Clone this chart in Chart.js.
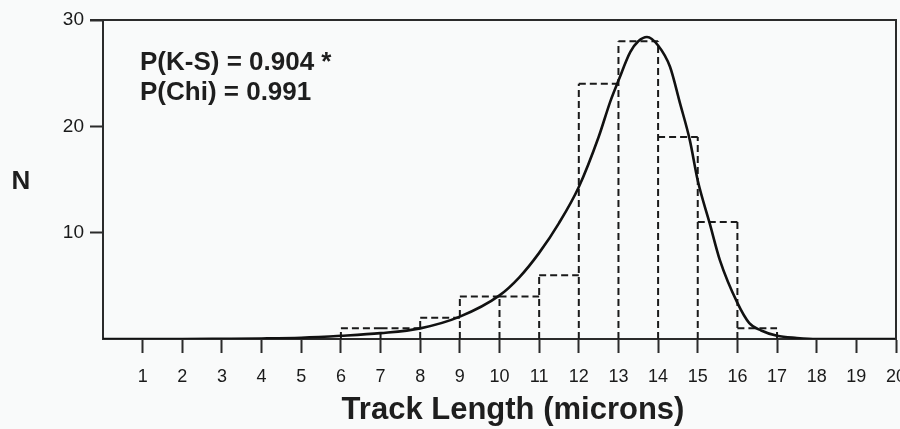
<!DOCTYPE html>
<html><head><meta charset="utf-8">
<script src="https://cdn.jsdelivr.net/npm/chart.js@4/dist/chart.umd.min.js"></script>
<style>html,body{margin:0;padding:0;background:#f9fafa;}</style>
</head><body>
<canvas id="c" width="900" height="429"></canvas>
<script>
// ---- data ----
const xTicks = [0,1,2,3,4,5,6,7,8,9,10,11,12,13,14,15,16,17,18,19,20];
const yTicks = [0,10,20,30];
const binStarts = [6,7,8,9,10,11,12,13,14,15,16];
const binWidth = 1;
const counts = [1,1,2,4,4,6,24,28,19,11,1];
const curveX = [0,1,2,3,4,5,6,7,8,9,10,10.5,11,11.5,12,12.5,12.8,13,13.3,13.5,13.72,14,14.3,14.55,14.8,15,15.3,15.56,16,16.3,16.6,17,17.5,18,19,20];
const curveY = [0,0,0,0.02,0.05,0.12,0.3,0.55,1.0,2.1,4.1,5.8,8.1,10.9,14.3,19.0,22.4,24.3,27.0,28.0,28.4,27.6,25.6,22.2,18.7,14.9,10.9,7.4,3.4,1.5,0.8,0.3,0.1,0,0,0];
const statLabels = ['P(K-S) = 0.904 *','P(Chi) = 0.991'];
const xTitle = 'Track Length (microns)';
const yTitle = 'N';

// ---- build datasets from data ----
const curvePts = curveX.map((x,i)=>({x:x,y:curveY[i]}));
const histPts = [];
binStarts.forEach((lo,i)=>{
  histPts.push({x:lo,y:counts[i]},{x:lo+binWidth,y:counts[i]},{x:lo+binWidth,y:null});
});
const edges = binStarts.concat([binStarts[binStarts.length-1]+binWidth]);
edges.forEach((b,j)=>{
  const left = j>0 ? counts[j-1] : 0;
  const right = j<counts.length ? counts[j] : 0;
  const h = Math.max(left,right);
  histPts.push({x:b,y:0},{x:b,y:h},{x:b,y:null});
});

const AX = '#2b2b2b';
const FONT = '"Liberation Sans", Arial, sans-serif';
const framePlugin = {
  id:'frame',
  afterDraw(chart){
    const {ctx, chartArea:a} = chart;
    ctx.save();
    ctx.strokeStyle = AX; ctx.lineWidth = 2;
    ctx.beginPath();
    ctx.moveTo(a.left-13, a.top); ctx.lineTo(a.right, a.top);
    ctx.lineTo(a.right, a.bottom);
    ctx.stroke();
    ctx.fillStyle = '#1e1e1e';
    ctx.textBaseline = 'middle';
    ctx.font = 'bold 26px ' + FONT;
    ctx.textAlign = 'left';
    ctx.fillText(statLabels[0], a.left+37, 63);
    ctx.fillText(statLabels[1], a.left+37, 93);
    ctx.font = 'bold 31px ' + FONT;
    ctx.textAlign = 'center';
    ctx.fillText(xTitle, 513, 410);
    ctx.font = 'bold 26px ' + FONT;
    ctx.fillText(yTitle, 21, 182);
    ctx.restore();
  }
};

new Chart(document.getElementById('c'), {
  type:'line',
  data:{datasets:[
    {data:curvePts, borderColor:'#111', borderWidth:2.6, pointRadius:0, cubicInterpolationMode:'monotone', fill:false},
    {data:histPts, borderColor:'#1a1a1a', borderWidth:2, borderDash:[7,4], pointRadius:0, tension:0, spanGaps:false, fill:false}
  ]},
  options:{
    responsive:false, animation:false, devicePixelRatio:1,
    layout:{padding:{top:20,right:4,left:0,bottom:0}},
    plugins:{legend:{display:false},tooltip:{enabled:false}},
    scales:{
      x:{type:'linear', min:xTicks[0], max:xTicks[xTicks.length-1],
        afterBuildTicks(s){ s.ticks = xTicks.map(v=>({value:v})); },
        afterFit(s){ s.height = 90; s.paddingRight = 0; s.paddingLeft = 0; },
        border:{display:true,color:AX,width:2},
        grid:{drawOnChartArea:false, drawTicks:true, tickLength:14, tickWidth:2,
          tickColor:(c)=> (c.tick && c.tick.value===0) ? 'rgba(0,0,0,0)' : AX},
        ticks:{autoSkip:false, maxRotation:0, padding:13, color:'#1a1a1a',
          font:{family:FONT, size:18},
          callback:(v)=> v===0 ? '' : String(v)}
      },
      y:{type:'linear', min:yTicks[0], max:yTicks[yTicks.length-1],
        afterBuildTicks(s){ s.ticks = yTicks.map(v=>({value:v})); },
        afterFit(s){ s.width = 103; s.paddingTop = 0; s.paddingBottom = 0; },
        border:{display:true,color:AX,width:2},
        grid:{drawOnChartArea:false, drawTicks:true, tickLength:13, tickWidth:2,
          tickColor:(c)=> (c.tick && c.tick.value===0) ? 'rgba(0,0,0,0)' : AX},
        ticks:{padding:6, color:'#1a1a1a',
          font:{family:FONT, size:19},
          callback:(v)=> v===0 ? '' : String(v)}
      }
    }
  },
  plugins:[framePlugin]
});
</script>
</body></html>
